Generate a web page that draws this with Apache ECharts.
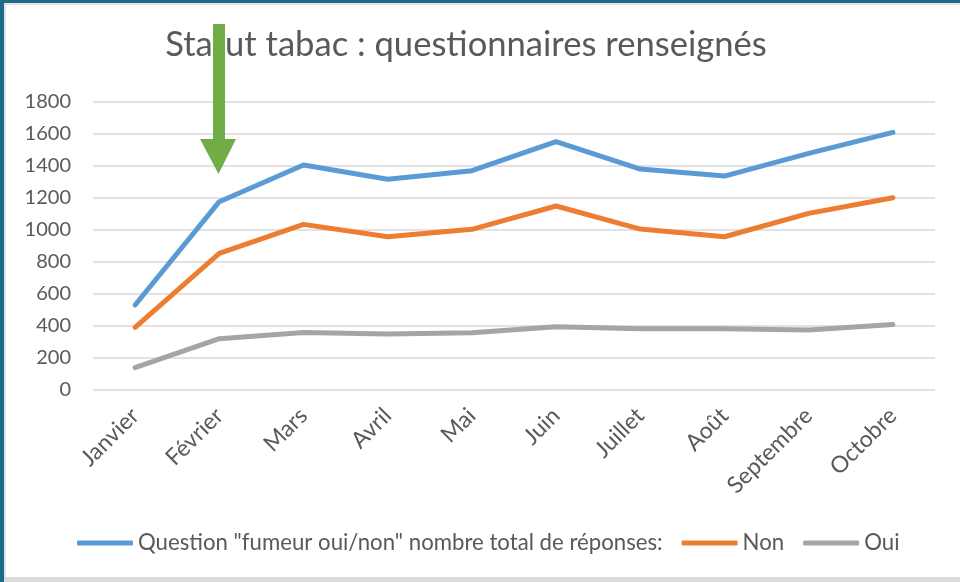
<!DOCTYPE html>
<html>
<head>
<meta charset="utf-8">
<script src="https://cdn.jsdelivr.net/npm/echarts@6/dist/echarts.min.js"></script>
<style>html,body{margin:0;padding:0;background:#fff;}#c{width:960px;height:582px;}</style>
</head>
<body>
<div id="c"></div>
<script>
var categories = ["Janvier", "Février", "Mars", "Avril", "Mai", "Juin", "Juillet", "Août", "Septembre", "Octobre"];
var totalName = 'Question "fumeur oui/non" nombre total de réponses:';
var totalValues = [531, 1177, 1406, 1317, 1371, 1552, 1381, 1337, 1479, 1610];
var nonValues = [392, 854, 1035, 958, 1004, 1150, 1006, 958, 1104, 1202];
var ouiValues = [140, 321, 360, 350, 358, 396, 383, 383, 375, 410];
var yTicks = { min: 0, max: 1800, interval: 200 };

var FONT = 'Lato';
var chart = echarts.init(document.getElementById('c'), null, { renderer: 'canvas' });
function line(name, data, color) {
  return {
    name: name, type: 'line', data: data, showSymbol: false, symbol: 'none',
    lineStyle: { color: color, width: 5, cap: 'round', join: 'round' },
    itemStyle: { color: color }, emphasis: { disabled: true }, animation: false
  };
}
chart.setOption({
  animation: false,
  textStyle: { fontFamily: FONT },
  title: {
    text: 'Statut tabac : questionnaires renseignés',
    left: 461, top: 22, textAlign: 'center',
    textStyle: { fontFamily: FONT, fontSize: 34.6, fontWeight: 'normal', color: '#595959' }
  },
  legend: {
    left: 72, top: 527, itemWidth: 56, itemHeight: 5, itemGap: 19,
    icon: 'roundRect',
    textStyle: { fontFamily: FONT, fontSize: 22.2, color: '#595959' },
    data: [totalName, 'Non', 'Oui']
  },
  grid: { left: 93, right: 25, top: 102, bottom: 192, containLabel: false },
  xAxis: {
    type: 'category', data: categories, boundaryGap: true,
    axisLine: { show: false }, axisTick: { show: false },
    axisLabel: { rotate: 45, margin: 22, fontFamily: FONT, fontSize: 23, color: '#595959', interval: 0 }
  },
  yAxis: {
    type: 'value', min: yTicks.min, max: yTicks.max, interval: yTicks.interval,
    axisLine: { show: false }, axisTick: { show: false },
    axisLabel: { margin: 22, fontFamily: FONT, fontSize: 20, color: '#595959', formatter: function (v) { return String(v); } },
    splitLine: { lineStyle: { color: '#D9D9D9', width: 1.5 } }
  },
  series: [
    line(totalName, totalValues, '#5B9BD5'),
    line('Non', nonValues, '#ED7D31'),
    line('Oui', ouiValues, '#A5A5A5')
  ],
  graphic: [
    { type: 'rect', shape: { x: 0, y: 0, width: 960, height: 3 }, style: { fill: '#1D6B86' }, z: 100 },
    { type: 'rect', shape: { x: 0, y: 3, width: 960, height: 2 }, style: { fill: '#E3E3E3' }, z: 99 },
    { type: 'rect', shape: { x: 0, y: 0, width: 4, height: 582 }, style: { fill: '#1D6B86' }, z: 100 },
    { type: 'rect', shape: { x: 4, y: 0, width: 2, height: 582 }, style: { fill: '#E3E3E3' }, z: 99 },
    { type: 'rect', shape: { x: 4, y: 577, width: 956, height: 5 }, style: { fill: '#DADADA' }, z: 99 },
    { type: 'polygon', shape: { points: [[213, 24], [225, 24], [225, 139], [236, 139], [218.5, 174], [200, 139], [213, 139]] },
      style: { fill: '#70AD47' }, z: 120 }
  ]
});
</script>
</body>
</html>
